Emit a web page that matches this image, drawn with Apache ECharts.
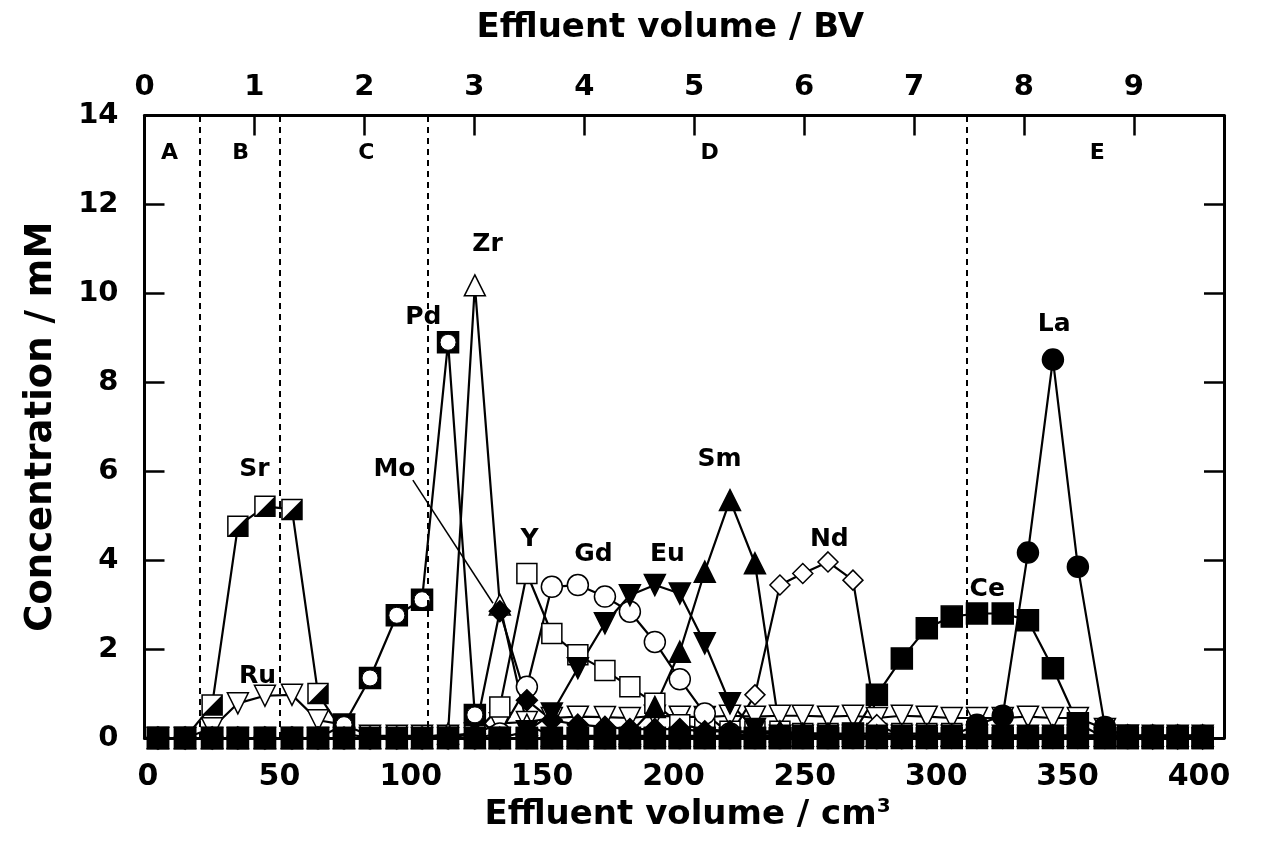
<!DOCTYPE html>
<html><head><meta charset="utf-8">
<script src="https://cdn.jsdelivr.net/npm/echarts@6/dist/echarts.min.js"></script>
<style>html,body{margin:0;padding:0;background:#fff}#c{width:1261px;height:846px}</style>
</head><body><div id="c"></div>
<script>
// Effluent volume of each collected fraction (cm3)
const volumes = [3.8,14.1,24.4,34.2,44.5,54.8,64.7,74.6,84.5,94.7,104.3,114.2,124.4,133.9,144.2,153.7,163.6,173.9,183.4,192.9,202.4,211.9,221.5,231,240.5,249.2,258.8,268.3,277.4,286.9,296.4,305.9,315.5,325.3,334.9,344.4,353.9,364.2,372.9,382.4,391.9,401.4];
// Concentrations (mM)
const Sr = [0,0,0.74,4.76,5.21,5.14,1.0,0.1,0,0,0,0,0,0,0,0,0,0,0,0,0,0,0,0,0,0,0,0,0,0,0,0,0,0,0,0,0,0,0,0,0,0];
const Ru = [0,0,0.22,0.78,0.95,0.97,0.4,0.3,0.05,0.05,0.05,0.05,0.1,0.33,0.36,0.45,0.48,0.47,0.45,0.5,0.48,0.47,0.5,0.48,0.5,0.5,0.48,0.5,0.45,0.5,0.48,0.45,0.45,0.45,0.48,0.45,0.45,0.2,0.05,0,0,0];
const Pd = [0,0,0,0,0,0,0,0.3,1.35,2.76,3.11,8.9,0.52,0,0,0,0,0,0,0,0,0,0,0,0,0,0,0,0,0,0,0,0,0,0,0,0,0,0,0,0,0];
const Zr = [0,0,0,0,0,0,0,0,0,0,0,0.1,10.18,3.0,0.3,0.05,0.05,0.05,0.05,0.05,0.05,0.05,0.05,0.05,0.05,0.05,0.05,0.05,0.05,0.05,0.05,0.05,0.05,0.05,0.05,0.05,0.05,0.05,0.05,0.05,0.05,0.05];
const Mo = [0,0,0,0,0,0,0,0,0,0,0,0,0.1,2.85,0.85,0.4,0.3,0.25,0.2,0.2,0.2,0.15,0.15,0.1,0.1,0.1,0.1,0.05,0,0,0,0,0,0,0,0,0,0,0,0,0,0];
const Y  = [0,0,0,0,0,0,0,0,0,0,0,0.05,0.1,0.7,3.7,2.35,1.87,1.52,1.15,0.78,0.3,0.2,0.15,0.15,0.15,0.1,0.1,0.1,0.1,0.1,0.1,0.1,0.05,0.05,0.05,0.05,0.05,0.05,0.05,0.05,0.05,0.05];
const Gd = [0,0,0,0,0,0,0,0,0,0,0,0,0,0.1,1.15,3.4,3.44,3.18,2.84,2.16,1.32,0.55,0.1,0.05,0.05,0.05,0.05,0.05,0.05,0.05,0.05,0.05,0.05,0.05,0.05,0.05,0.05,0.05,0.05,0.05,0.05,0.05];
const Eu = [0,0,0,0,0,0,0,0,0,0,0,0,0,0,0.15,0.55,1.57,2.58,3.21,3.44,3.25,2.13,0.78,0.2,0.05,0.05,0.05,0.05,0.05,0.05,0.05,0.05,0.05,0.05,0.05,0.05,0.05,0.05,0.05,0.05,0.05,0.05];
const Sm = [0,0,0,0,0,0,0,0,0,0,0,0,0,0,0,0,0,0,0.1,0.7,1.94,3.74,5.35,3.93,0.15,0.05,0.05,0.05,0.05,0.05,0.05,0.05,0.05,0.05,0.05,0.05,0.05,0.05,0.05,0.05,0.05,0.05];
const Nd = [0,0,0,0,0,0,0,0,0,0,0,0,0,0,0,0,0,0,0,0,0,0,0.05,0.97,3.44,3.7,3.96,3.55,0.3,0.05,0.05,0.05,0.05,0.05,0.05,0.05,0.05,0.05,0.05,0.05,0.05,0.05];
const Ce = [0,0,0,0,0,0,0,0,0,0,0,0,0,0,0,0,0,0,0,0,0,0,0,0,0,0,0,0.1,0.97,1.79,2.47,2.73,2.8,2.8,2.65,1.57,0.33,0,0,0,0,0];
const La = [0,0,0,0,0,0,0,0,0,0,0,0,0,0,0,0,0,0,0,0,0,0,0,0,0,0,0,0,0,0,0,0.05,0.3,0.5,4.17,8.51,3.85,0.25,0,0,0,0];
// Region boundaries (cm3) and labels
const boundaries = [19.8, 50.2, 106.5, 311.6];
const regionNames = ['A','B','C','D','E'];
const regionX = [8.4, 35.4, 83.3, 213.9, 361.5];
const regionY = [13.15, 13.15, 13.15, 13.15, 13.15];
// Element labels
const elemNames = ['Sr','Ru','Pd','Zr','Mo','Y','Gd','Eu','Sm','Nd','Ce','La'];
const elemX = [40.7, 41.9, 105, 129.4, 94, 145.4, 169.7, 197.9, 217.7, 259.5, 319.6, 345.1];
const elemY = [6.02, 1.37, 9.44, 11.08, 6.02, 4.45, 4.11, 4.11, 6.25, 4.45, 3.33, 9.28];
const moLeader = [[100.8, 5.8], [131.3, 3.03]];
// Top axis: bed volumes shown over the frame
const bvMax = 9.82;

const FF = 'DejaVu Sans';
const pts = vals => volumes.map((v, i) => [v, vals[i]]);
const onData = { xAxisIndex: 2, yAxisIndex: 2, clip: false };
const lineSeries = (name, vals, symbol, size, fill, extra) => Object.assign({
  type: 'line', name, data: pts(vals), symbol, symbolSize: size, showAllSymbol: true,
  lineStyle: { color: '#000', width: 2.2 },
  itemStyle: { color: fill, borderColor: '#000', borderWidth: 1.5, opacity: 1 },
  emphasis: { disabled: true }, z: 3
}, onData, extra || {});
const overlay = (vals, symbol, size, fill, border) => Object.assign({
  type: 'scatter', data: pts(vals), symbol, symbolSize: size,
  itemStyle: { color: fill, borderColor: '#000', borderWidth: border, opacity: 1 },
  emphasis: { disabled: true }, z: 3
}, onData);
const textSeries = (names, xs, ys, size) => Object.assign({
  type: 'scatter', silent: true, symbolSize: 1, z: 5,
  itemStyle: { color: 'rgba(0,0,0,0)', opacity: 1 },
  data: names.map((n, i) => [xs[i], ys[i], n]),
  label: { show: true, position: [0, 0], align: 'center', verticalAlign: 'middle',
    formatter: p => p.data[2], fontFamily: FF, fontWeight: 'bold', fontSize: size, color: '#000' }
}, onData);

const chart = echarts.init(document.getElementById('c'));
const axisFont = { fontFamily: FF, fontWeight: 'bold', fontSize: 29, color: '#000' };
const frameLine = { show: true, onZero: false, lineStyle: { color: '#000', width: 3 } };
const inTick = { show: true, inside: true, length: 20, lineStyle: { color: '#000', width: 2.5 } };
chart.setOption({
  animation: false,
  backgroundColor: '#fff',
  grid: [
    { left: 144.5, right: 37, top: 115.5, bottom: 108 },
    { left: 148, right: 62, top: 115.5, bottom: 108 }
  ],
  xAxis: [
    { gridIndex: 0, type: 'value', min: 0, max: 1, position: 'bottom',
      axisLine: frameLine, axisTick: { show: false }, axisLabel: { show: false }, splitLine: { show: false } },
    { gridIndex: 0, type: 'value', min: 0, max: bvMax, interval: 1, position: 'top',
      axisLine: frameLine, axisTick: inTick, splitLine: { show: false },
      axisLabel: Object.assign({ margin: 14, showMaxLabel: false, formatter: v => Number.isInteger(v) ? String(v) : '' }, axisFont),
      name: 'Effluent volume / BV', nameLocation: 'middle', nameGap: 70,
      nameTextStyle: { fontFamily: FF, fontWeight: 'bold', fontSize: 34, color: '#000', padding: [0, 28, 0, 0] } },
    { gridIndex: 1, type: 'value', min: 0, max: 400, interval: 50, position: 'bottom',
      axisLine: { show: false, onZero: false }, axisTick: { show: false }, splitLine: { show: false },
      axisLabel: Object.assign({ margin: 24 }, axisFont, { fontSize: 30 }),
      name: '{t|Effluent volume / cm}{s|3}', nameLocation: 'middle', nameGap: 46,
      nameTextStyle: { padding: [0, 0, 0, 28], rich: {
        t: { fontFamily: FF, fontWeight: 'bold', fontSize: 34, color: '#000' },
        s: { fontFamily: FF, fontWeight: 'bold', fontSize: 20, color: '#000', verticalAlign: 'top', padding: [0, 0, 16, 0] } } } }
  ],
  yAxis: [
    { gridIndex: 0, type: 'value', min: 0, max: 14, interval: 2, position: 'left',
      axisLine: frameLine, axisTick: inTick, splitLine: { show: false },
      axisLabel: Object.assign({ margin: 26 }, axisFont),
      name: 'Concentration / mM', nameLocation: 'middle', nameRotate: 90, nameGap: 85,
      nameTextStyle: { fontFamily: FF, fontWeight: 'bold', fontSize: 37, color: '#000' } },
    { gridIndex: 0, type: 'value', min: 0, max: 14, interval: 2, position: 'right',
      axisLine: frameLine, axisTick: inTick, splitLine: { show: false }, axisLabel: { show: false } },
    { gridIndex: 1, type: 'value', min: 0, max: 14, interval: 2, show: false }
  ],
  series: [
    Object.assign({ type: 'line', data: [], silent: true, z: 1,
      markLine: { silent: true, symbol: 'none', label: { show: false }, animation: false,
        lineStyle: { type: [6, 5], color: '#000', width: 2 },
        data: boundaries.map(b => ({ xAxis: b })) } }, onData),
    Object.assign({ type: 'line', data: [], silent: true, z: 1,
      markLine: { silent: true, symbol: 'none', label: { show: false }, animation: false,
        lineStyle: { type: 'solid', color: '#000', width: 1.5 },
        data: [[{ coord: moLeader[0] }, { coord: moLeader[1] }]] } }, onData),
    lineSeries('Ru', Ru, 'triangle', 21, '#fff', { symbolRotate: 180 }),
    lineSeries('Y', Y, 'rect', 20, '#fff'),
    lineSeries('Gd', Gd, 'circle', 21, '#fff'),
    lineSeries('Nd', Nd, 'diamond', 20, '#fff'),
    lineSeries('Zr', Zr, 'triangle', 21, '#fff'),
    lineSeries('Sr', Sr, 'rect', 20, '#fff'),
    overlay(Sr, 'path://M10,0L10,10L0,10Z', 20, '#000', 0),
    lineSeries('Pd', Pd, 'rect', 21, '#000'),
    overlay(Pd, 'circle', 16, '#fff', 1),
    lineSeries('Eu', Eu, 'triangle', 21, '#000', { symbolRotate: 180 }),
    lineSeries('Sm', Sm, 'triangle', 21, '#000'),
    lineSeries('Ce', Ce, 'rect', 21, '#000'),
    lineSeries('La', La, 'circle', 21, '#000'),
    lineSeries('Mo', Mo, 'diamond', 21, '#000'),
    textSeries(regionNames, regionX, regionY, 22),
    textSeries(elemNames, elemX, elemY, 25)
  ]
});
</script></body></html>
